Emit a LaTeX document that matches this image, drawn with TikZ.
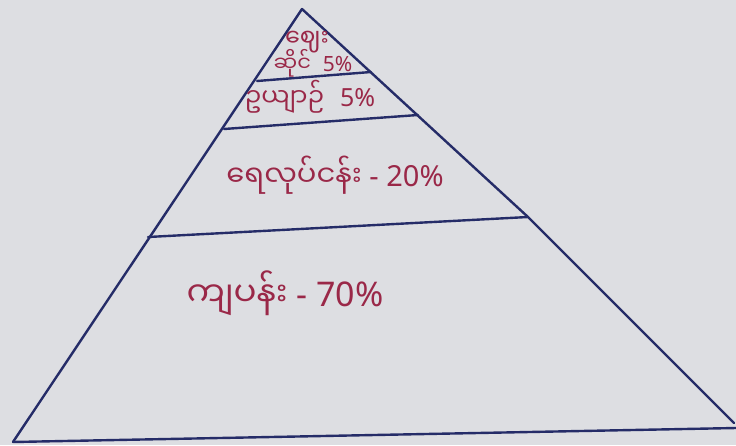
\documentclass[tikz,border=0pt]{standalone}
\usepackage{fontspec}
\setmainfont{Noto Sans}
\newfontfamily\mmfont[Script=Myanmar]{Noto Sans Myanmar UI}
\usepackage{tikz}
\usetikzlibrary{calc,positioning}
\definecolor{paperbg}{HTML}{DDDEE2}
\definecolor{inkblue}{HTML}{252C68}
\definecolor{inkred}{HTML}{9A2848}
\tikzset{
  pencil/.style={draw=inkblue,line width=2.4pt,line cap=round,line join=round},
  tierlabel/.style={text=inkred,font=\fontsize{#1}{#1}\selectfont,inner sep=0pt,anchor=center},
  tierlabel/.default={24},
}

\begin{document}
\begin{tikzpicture}[x=1pt,y=-1pt]
  \fill[paperbg] (0,0) rectangle (736,445);
  \useasboundingbox (0,0) rectangle (736,445);
  % pyramid outline
  \coordinate (apex) at (302,9);
  \coordinate (baseL) at (13,442);
  \coordinate (baseR) at (734,423);
  \coordinate (bend) at (528,217);
  \draw[pencil] (baseL) -- (apex) -- (bend) -- (baseR);
  \draw[pencil] (baseL) -- (736,428);
  % tier dividers
  \coordinate (t1L) at (257,81);  \coordinate (t1R) at (371,72);
  \coordinate (t2L) at (224,129); \coordinate (t2R) at (418,115);
  \coordinate (t3L) at (148,237); \coordinate (t3R) at (bend);
  \draw[pencil] (t1L) -- (t1R);
  \draw[pencil] (t2L) -- (t2R);
  \draw[pencil] (t3L) -- (t3R);
  % tier labels
  \node[tierlabel=24] (market) at (307,42) {\mmfont ဈေး};
  \node[tierlabel=21] (shop) at (313,63) {{\mmfont ဆိုင်}\hspace{12pt}5\%};
  \node[tierlabel=25] (garden) at (310,97) {{\mmfont ဥယျာဉ်}\hspace{16pt}5\%};
  \node[tierlabel=29] (fishery) at (335,175) {{\mmfont ရေလုပ်ငန်း} - 20\%};
  \node[tierlabel=34] (labour) at (285,293) {{\mmfont ကျပန်း} - 70\%};
\end{tikzpicture}
\end{document}
